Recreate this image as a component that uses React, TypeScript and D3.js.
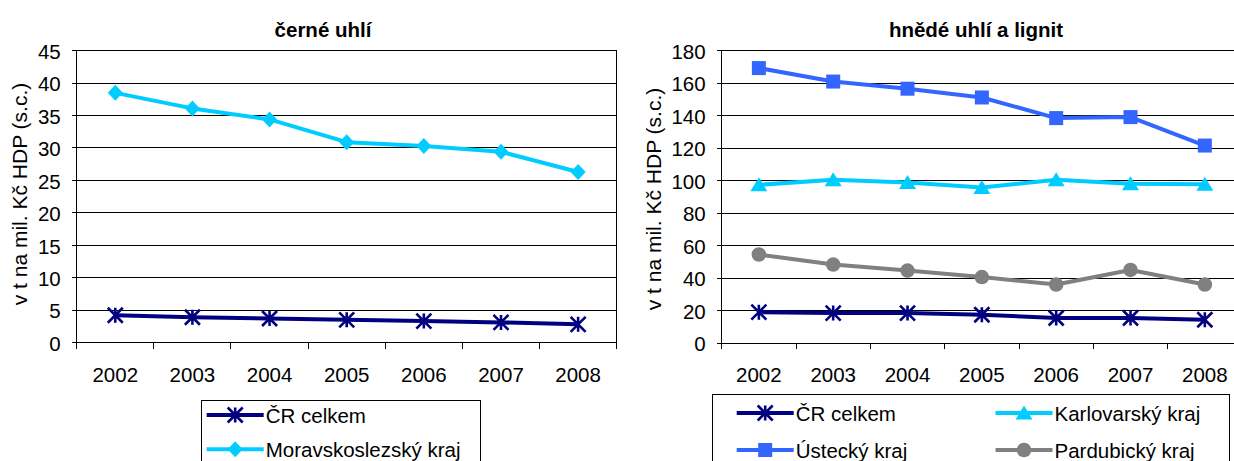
import React from "react";
import * as d3 from "d3";

const years = ["2002", "2003", "2004", "2005", "2006", "2007", "2008"];

const cerneCR = [4.2, 3.9, 3.7, 3.5, 3.3, 3.1, 2.8];
const cerneMS = [38.5, 36.1, 34.4, 30.9, 30.3, 29.4, 26.3];

const hnedeCR = [19.0, 18.4, 18.4, 17.4, 15.4, 15.4, 14.3];
const hnedeUst = [169.3, 161.0, 156.6, 151.2, 138.5, 139.1, 121.6];
const hnedeKar = [97.4, 100.5, 98.8, 95.8, 100.5, 98.0, 97.8];
const hnedePar = [54.5, 48.3, 44.6, 40.6, 36.0, 45.0, 36.0];

const leftTicks = [0, 5, 10, 15, 20, 25, 30, 35, 40, 45];
const rightTicks = [0, 20, 40, 60, 80, 100, 120, 140, 160, 180];

const titleLeft = "černé uhlí";
const titleRight = "hnědé uhlí a lignit";
const yTitle = "v t na mil. Kč HDP (s.c.)";

const NAVY = "#000080";
const CYAN = "#00CCFF";
const BLUE = "#3366FF";
const GRAY = "#808080";
const FONT = "'Liberation Sans', Arial, sans-serif";
const FS = 20.5;

type MarkerKind = "star" | "diamond" | "square" | "triangle" | "circle";

function Marker({ kind, x, y, color }: { kind: MarkerKind; x: number; y: number; color: string }) {
  const h = 7.5;
  if (kind === "star") {
    return (
      <path
        d={`M${x},${y - h}L${x},${y + h}M${x - h},${y - h}L${x + h},${y + h}M${x - h},${y + h}L${x + h},${y - h}`}
        stroke={color}
        strokeWidth={2.6}
        fill="none"
      />
    );
  }
  if (kind === "diamond") {
    return <path d={`M${x},${y - 8}L${x + 7.5},${y}L${x},${y + 8}L${x - 7.5},${y}Z`} fill={color} />;
  }
  if (kind === "square") {
    return <rect x={x - 7} y={y - 7} width={14} height={14} fill={color} />;
  }
  if (kind === "triangle") {
    return <path d={`M${x},${y - 7.5}L${x + 8.5},${y + 6.5}L${x - 8.5},${y + 6.5}Z`} fill={color} />;
  }
  return <circle cx={x} cy={y} r={7.3} fill={color} />;
}

type Series = { name: string; values: number[]; color: string; marker: MarkerKind };

function Chart({
  x0,
  x1,
  y0,
  y1,
  max,
  ticks,
  series,
  title,
  titleX,
  yTitleX,
  yTitleY,
}: {
  x0: number;
  x1: number;
  y0: number;
  y1: number;
  max: number;
  ticks: number[];
  series: Series[];
  title: string;
  titleX: number;
  yTitleX: number;
  yTitleY: number;
}) {
  const x = d3.scaleBand<string>().domain(years).range([x0, x1]).padding(0);
  const y = d3.scaleLinear().domain([0, max]).range([y0, y1]);
  const cx = (d: string) => (x(d) as number) + x.bandwidth() / 2;
  const line = d3
    .line<number>()
    .x((_, i) => cx(years[i]))
    .y((v) => y(v));
  const boundaries = years.map((d) => x(d) as number).concat([x1]);
  return (
    <g>
      <text x={titleX} y={36.5} textAnchor="middle" fontFamily={FONT} fontWeight="bold" fontSize={20.5} fill="#000">
        {title}
      </text>
      <text
        transform={`translate(${yTitleX},${yTitleY}) rotate(-90)`}
        textAnchor="middle"
        fontFamily={FONT}
        fontSize={21}
        fill="#000"
      >
        {yTitle}
      </text>
      {ticks.map((t) => (
        <g key={t}>
          <line x1={x0 - 5} x2={x1} y1={y(t)} y2={y(t)} stroke="#000" strokeWidth={1} shapeRendering="crispEdges" />
          <text x={x0 - 16} y={y(t) + 8.3} textAnchor="end" fontFamily={FONT} fontSize={FS} fill="#000">
            {t}
          </text>
        </g>
      ))}
      <line x1={x0} x2={x0} y1={y1} y2={y0} stroke="#000" strokeWidth={1} shapeRendering="crispEdges" />
      <line x1={x1} x2={x1} y1={y1} y2={y0} stroke="#000" strokeWidth={1} shapeRendering="crispEdges" />
      {boundaries.map((b, i) => (
        <line key={i} x1={b} x2={b} y1={y0} y2={y0 + 6} stroke="#000" strokeWidth={1} shapeRendering="crispEdges" />
      ))}
      {years.map((d) => (
        <text key={d} x={cx(d)} y={381.7} textAnchor="middle" fontFamily={FONT} fontSize={FS} fill="#000">
          {d}
        </text>
      ))}
      {series.map((s) => (
        <g key={s.name}>
          <path d={line(s.values) || ""} fill="none" stroke={s.color} strokeWidth={4} strokeLinejoin="round" />
          {s.values.map((v, i) => (
            <Marker key={i} kind={s.marker} x={cx(years[i])} y={y(v)} color={s.color} />
          ))}
        </g>
      ))}
    </g>
  );
}

function LegendItem({ s, x, y }: { s: Series; x: number; y: number }) {
  return (
    <g>
      <line x1={x} x2={x + 57} y1={y} y2={y} stroke={s.color} strokeWidth={4} />
      <Marker kind={s.marker} x={x + 28.5} y={y} color={s.color} />
      <text x={x + 59} y={y + 7.5} fontFamily={FONT} fontSize={FS} fill="#000">
        {s.name}
      </text>
    </g>
  );
}

export default function App() {
  const leftSeries: Series[] = [
    { name: "ČR celkem", values: cerneCR, color: NAVY, marker: "star" },
    { name: "Moravskoslezský kraj", values: cerneMS, color: CYAN, marker: "diamond" },
  ];
  const rightSeries: Series[] = [
    { name: "ČR celkem", values: hnedeCR, color: NAVY, marker: "star" },
    { name: "Karlovarský kraj", values: hnedeKar, color: CYAN, marker: "triangle" },
    { name: "Ústecký kraj", values: hnedeUst, color: BLUE, marker: "square" },
    { name: "Pardubický kraj", values: hnedePar, color: GRAY, marker: "circle" },
  ];
  const rightDraw = [rightSeries[3], rightSeries[1], rightSeries[2], rightSeries[0]];
  const leftDraw = [leftSeries[1], leftSeries[0]];
  return (
    <svg
      width={1234}
      height={461}
      style={{ position: "absolute", left: 0, top: 0, background: "#fff" }}
    >
      <rect width={1234} height={461} fill="#fff" />
      <Chart
        x0={76.7}
        x1={616.7}
        y0={342.5}
        y1={50.7}
        max={45}
        ticks={leftTicks}
        series={leftDraw}
        title={titleLeft}
        titleX={323}
        yTitleX={27}
        yTitleY={194}
      />
      <Chart
        x0={721.7}
        x1={1242}
        y0={343}
        y1={50.7}
        max={180}
        ticks={rightTicks}
        series={rightDraw}
        title={titleRight}
        titleX={976}
        yTitleX={661}
        yTitleY={199}
      />
      <rect x={201.7} y={400.5} width={278.3} height={80} fill="#fff" stroke="#000" strokeWidth={1} shapeRendering="crispEdges" />
      <LegendItem s={leftSeries[0]} x={206.7} y={415} />
      <LegendItem s={leftSeries[1]} x={206.7} y={449.3} />
      <rect x={712.8} y={394.5} width={516.2} height={80} fill="#fff" stroke="#000" strokeWidth={1} shapeRendering="crispEdges" />
      <LegendItem s={rightSeries[0]} x={736.7} y={413} />
      <LegendItem s={rightSeries[1]} x={995.5} y={413} />
      <LegendItem s={rightSeries[2]} x={736.7} y={450} />
      <LegendItem s={rightSeries[3]} x={995.5} y={450} />
    </svg>
  );
}
